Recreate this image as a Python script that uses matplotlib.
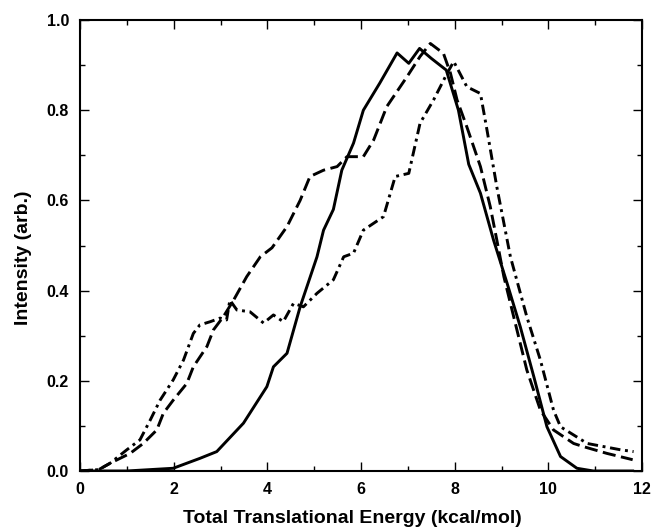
import matplotlib
matplotlib.use("Agg")
import matplotlib.pyplot as plt
from matplotlib.ticker import MultipleLocator, FormatStrFormatter

plt.rcParams['font.family'] = ['Liberation Sans', 'DejaVu Sans']
plt.rcParams['font.weight'] = 'bold'

# Solid curve
solid_x = [0.0, 1.0, 1.99, 2.56, 2.92, 3.49, 3.99, 4.13, 4.42, 4.70, 5.06, 5.20, 5.41,
           5.59, 5.84, 6.05, 6.40, 6.77, 7.02, 7.25, 7.50, 7.82, 8.08, 8.30, 8.55, 8.83,
           9.12, 9.40, 9.69, 9.97, 10.26, 10.61, 10.96, 11.80]
solid_y = [0.0, 0.0, 0.006, 0.028, 0.043, 0.106, 0.187, 0.231, 0.261, 0.364, 0.475, 0.534,
           0.58, 0.667, 0.727, 0.80, 0.86, 0.927, 0.904, 0.937, 0.915, 0.889, 0.80, 0.68,
           0.616, 0.512, 0.416, 0.32, 0.209, 0.098, 0.032, 0.006, 0.0, 0.0]

# Dashed curve
dash_x = [0.0, 0.4, 0.64, 1.07, 1.35, 1.64, 1.78, 1.99, 2.28, 2.42, 2.71, 2.85, 3.06, 3.28,
          3.56, 3.85, 4.10, 4.42, 4.70, 4.91, 5.20, 5.49, 5.70, 6.05, 6.27, 6.55, 6.98,
          7.26, 7.48, 7.76, 7.91, 8.05, 8.26, 8.55, 8.76, 8.90, 9.05, 9.26, 9.54, 9.83,
          10.11, 10.54, 10.75, 11.25, 11.80]
dash_y = [0.0, 0.003, 0.017, 0.039, 0.061, 0.091, 0.128, 0.157, 0.194, 0.231, 0.276, 0.313,
          0.342, 0.379, 0.431, 0.475, 0.495, 0.542, 0.60, 0.653, 0.667, 0.675, 0.697, 0.697,
          0.734, 0.808, 0.874, 0.919, 0.948, 0.926, 0.882, 0.823, 0.763, 0.675, 0.586,
          0.512, 0.431, 0.342, 0.224, 0.135, 0.091, 0.061, 0.054, 0.039, 0.025]

# Dash-dot curve
dd_x = [0.0, 0.4, 0.64, 1.0, 1.28, 1.50, 1.71, 1.99, 2.21, 2.42, 2.56, 2.78, 2.99, 3.13,
        3.20, 3.35, 3.63, 3.92, 4.13, 4.34, 4.56, 4.77, 5.06, 5.41, 5.63, 5.84, 6.05, 6.48,
        6.73, 7.02, 7.26, 7.55, 7.84, 7.98, 8.26, 8.55, 8.69, 8.90, 9.19, 9.54, 9.83,
        10.11, 10.26, 10.83, 11.54, 11.82]
dd_y = [0.0, 0.003, 0.017, 0.047, 0.069, 0.113, 0.157, 0.202, 0.246, 0.305, 0.324, 0.331,
        0.339, 0.335, 0.379, 0.357, 0.353, 0.328, 0.346, 0.331, 0.372, 0.364, 0.394, 0.424,
        0.475, 0.483, 0.534, 0.564, 0.653, 0.66, 0.771, 0.823, 0.882, 0.908, 0.852, 0.837,
        0.756, 0.63, 0.475, 0.342, 0.246, 0.135, 0.098, 0.061, 0.047, 0.043]

fig = plt.figure(figsize=(6.52, 5.27), dpi=100)
ax = fig.add_axes([0.1227, 0.1063, 0.862, 0.8557])

lw = 2.1
ax.plot(solid_x, solid_y, color='black', lw=lw)
ax.plot(dash_x, dash_y, color='black', lw=lw, linestyle=(0, (4.5, 1.9)))
ax.plot(dd_x, dd_y, color='black', lw=lw, linestyle=(0, (3.6, 1.6, 1.0, 1.6)))

ax.set_xlim(0, 12)
ax.set_ylim(0, 1.0)
ax.xaxis.set_major_locator(MultipleLocator(2))
ax.xaxis.set_minor_locator(MultipleLocator(1))
ax.yaxis.set_major_locator(MultipleLocator(0.2))
ax.yaxis.set_minor_locator(MultipleLocator(0.1))
ax.xaxis.set_major_formatter(FormatStrFormatter('%d'))
ax.yaxis.set_major_formatter(FormatStrFormatter('%.1f'))
ax.tick_params(which='both', direction='in', top=True, right=True, width=1.0)
ax.tick_params(which='major', length=6.5, labelsize=11.5, pad=8)
ax.tick_params(which='minor', length=3.5)
for s in ax.spines.values():
    s.set_linewidth(1.5)

ax.set_xlabel('Total Translational Energy (kcal/mol)', fontsize=14, fontweight='bold')
ax.xaxis.set_label_coords(0.485, -0.0865)
ax.set_ylabel('Intensity (arb.)', fontsize=14, fontweight='bold')
ax.yaxis.set_label_coords(-0.085, 0.472)

fig.savefig('out.png', dpi=100)
